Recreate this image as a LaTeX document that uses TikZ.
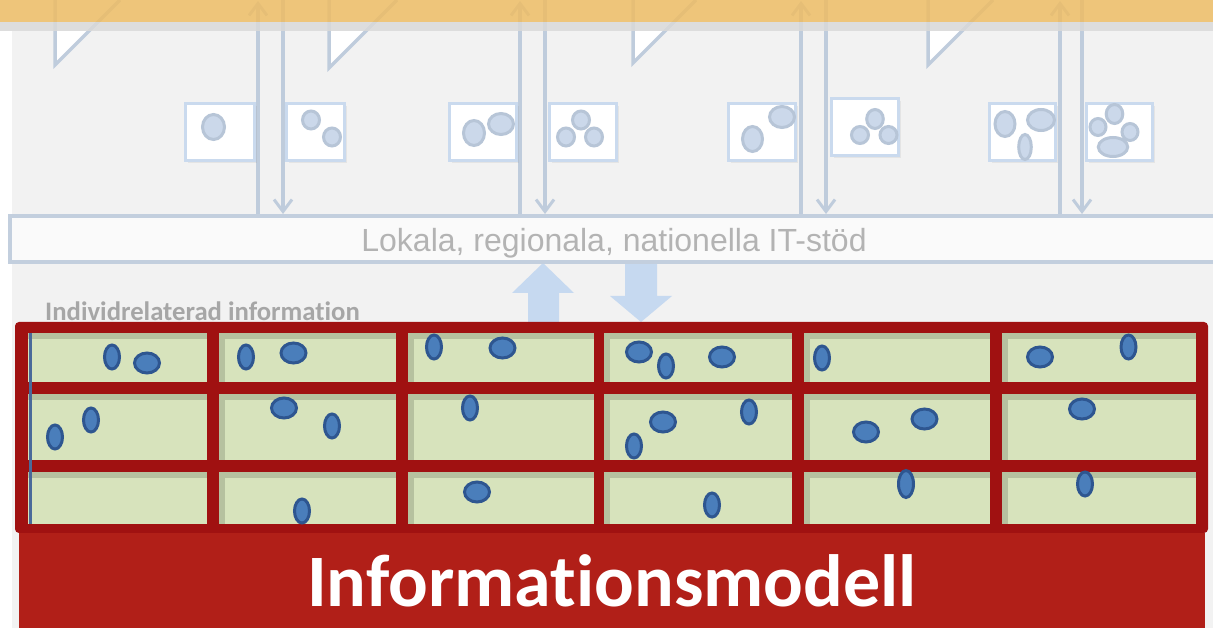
\documentclass[tikz,border=0pt]{standalone}
\usepackage{fontspec}
\setmainfont{Liberation Sans}
\newfontfamily\carlito[Ligatures=NoCommon]{Carlito}
\usetikzlibrary{arrows.meta,shadows}
\definecolor{panelc}{HTML}{F2F2F2}
\definecolor{linec}{HTML}{BFCCDC}
\definecolor{boxc}{HTML}{CADAEE}
\definecolor{ldotf}{HTML}{CBD8EA}
\definecolor{ldotr}{HTML}{B7C5D7}
\definecolor{itfill}{HTML}{FAFAFA}
\definecolor{itline}{HTML}{C3CFDE}
\definecolor{ittext}{HTML}{B3B3B3}
\definecolor{indtext}{HTML}{A6A6A6}
\definecolor{blockc}{HTML}{C6D9F0}
\definecolor{redframe}{HTML}{A01111}
\definecolor{cellg}{HTML}{D7E3BC}
\definecolor{datf}{HTML}{4A7EBB}
\definecolor{datr}{HTML}{2E5690}
\definecolor{redbox}{HTML}{B11F18}
\definecolor{orangeb}{HTML}{ECBD67}
\definecolor{bandg}{HTML}{D9D9D9}
\definecolor{blueline}{HTML}{4A6A9A}
\newcommand\tallE[3][12]{\draw[dat] (#2,#3) ellipse [x radius=7.5, y radius=#1];}
\newcommand\rndE[2]{\draw[dat] (#1,#2) ellipse [x radius=12.5, y radius=10];}
\newcommand\lDot[4]{\draw[ldat] (#1,#2) ellipse [x radius=#3, y radius=#4];}
\begin{document}
\begin{tikzpicture}[x=1pt,y=-1pt,
  conn/.style={draw=linec, line width=3.5pt},
  tipbarb/.style={-{Straight Barb[length=12pt,width=18pt,line width=3pt]}},
  tailline/.style={draw=linec, line width=3.5pt, line join=miter},
  dbox/.style={draw=boxc, line width=3pt, fill=white, inner sep=0pt,
     drop shadow={opacity=0.12, shadow xshift=2pt, shadow yshift=-3pt}},
  itbox/.style={draw=itline, line width=4pt, fill=itfill, inner sep=0pt,
     text=ittext, font=\fontsize{32}{36}\selectfont},
  dat/.style={draw=datr, fill=datf, line width=3pt},
  ldat/.style={draw=ldotr, fill=ldotf, line width=3pt},
  blockarrow/.style={fill=blockc},
  shade/.style={fill=black, opacity=0.15}]
\useasboundingbox (0,0) rectangle (1213,628);
\fill[white] (0,0) rectangle (1213,628);
\fill[panelc] (12,31) rectangle (1213,628);

% callout tails from the banner
\foreach \tx/\ty in {55/65,329/68,633/63,928/65}{
  \fill[white] (\tx,31) -- (\tx,\ty) -- ({\tx+\ty-31},31) -- cycle;
  \draw[tailline] (\tx,0) -- (\tx,\ty) -- ({\tx+\ty},0);
}

% block arrows
\fill[blockarrow] (543,263) -- (574,293) -- (559,293) -- (559,330) -- (528,330) -- (528,293) -- (512,293) -- cycle;
\fill[blockarrow] (625,262) -- (657,262) -- (657,296) -- (672,296) -- (641,322) -- (610,296) -- (625,296) -- cycle;

% IT box
\node[itbox, minimum width=1208pt, minimum height=46pt] (it) at (614,239) {};
\node[inner sep=0pt, anchor=base, text=ittext, font=\fontsize{32}{36}\selectfont] (ittxt) at (614,252) {Lokala, regionala, nationella IT-stöd};

% vertical connectors
\foreach \i/\ux/\dx in {1/258/283, 2/520/545, 3/801/826, 4/1060/1082}{
  \coordinate (ut\i) at (\ux,1);
  \coordinate (dt\i) at (\dx,0);
  \draw[conn, tipbarb] (it.north -| ut\i) -- (ut\i);
  \draw[conn, tipbarb] (dt\i) -- (it.north -| dt\i);
}

% small boxes
\node[dbox, minimum width=69pt, minimum height=57pt] (b1) at (220,132) {};
\node[dbox, minimum width=58pt, minimum height=57pt] (b2) at (315.5,132) {};
\node[dbox, minimum width=67pt, minimum height=57pt] (b3) at (483,132) {};
\node[dbox, minimum width=67pt, minimum height=57pt] (b4) at (583,132) {};
\node[dbox, minimum width=67pt, minimum height=57pt] (b5) at (762,132) {};
\node[dbox, minimum width=67pt, minimum height=57pt] (b6) at (865,127) {};
\node[dbox, minimum width=66pt, minimum height=57pt] (b7) at (1022.5,132) {};
\node[dbox, minimum width=66pt, minimum height=57pt] (b8) at (1119.5,132) {};
\lDot{213.5}{127}{11}{12.5}
\lDot{311}{120}{8.5}{9}
\lDot{332}{137}{8.5}{9}
\lDot{474}{133}{10.5}{12.5}
\lDot{501}{124}{12.5}{10.5}
\lDot{581}{120}{8.5}{9}
\lDot{566}{137}{8.5}{9}
\lDot{594}{137}{8.5}{9}
\lDot{752.5}{139}{10}{12.5}
\lDot{782}{117}{12.5}{10.5}
\lDot{875}{119}{8.3}{9.5}
\lDot{860}{135}{8.5}{8.5}
\lDot{888.5}{135}{8.5}{8.5}
\lDot{1005}{124}{10}{12.5}
\lDot{1041}{120}{13.5}{10.5}
\lDot{1025}{147}{6.3}{12.5}
\lDot{1114.5}{114}{8.3}{9.5}
\lDot{1098}{127}{8}{8.5}
\lDot{1130}{132}{8}{8.5}
\lDot{1113}{147}{14.7}{9.5}

% label
\node[anchor=base west, inner sep=0pt, text=indtext, font=\carlito\bfseries\fontsize{26.7}{30}\selectfont] (ind) at (45,321) {Individrelaterad information};

% red frame and cells
\fill[redframe, rounded corners=4pt] (15,322) rectangle (1208,533);
\foreach \xa/\xb/\c in {27.5/207/0, 219/396/1, 408/594/1, 604/791.5/1, 804/990/1, 1002/1196/1}{
  \foreach \ya/\yb in {333/382, 394/460, 472/524}{
    \fill[cellg] (\xa,\ya) rectangle (\xb,\yb);
    \fill[shade] (\xa,\ya) rectangle (\xb,{\ya+6});
    \ifnum\c=1 \fill[shade] (\xa,{\ya+6}) rectangle ({\xa+6},\yb); \fi
  }
}
\draw[blueline, line width=2.5pt] (30.5,333) -- (30.5,524);

% data ellipses
\tallE{112}{357} \rndE{147}{363}
\tallE{246}{357} \rndE{293.5}{353}
\tallE{434}{347} \rndE{502.5}{348}
\rndE{639}{352} \tallE{666}{366} \rndE{722}{357}
\tallE{822}{358}
\rndE{1040}{357} \tallE{1128.5}{347}
\tallE{55}{437} \tallE{91}{420}
\rndE{284}{408} \tallE{332}{426}
\tallE{470}{408}
\tallE{634}{446} \rndE{663}{422} \tallE{749}{412}
\rndE{866}{432} \rndE{924.5}{419}
\rndE{1082}{409}
\tallE{302}{511}
\rndE{477}{492}
\tallE{712}{505}
\tallE[13.5]{906}{484}
\tallE{1085}{484}

% bottom title box
\node[fill=redbox, minimum width=1186pt, minimum height=95pt, inner sep=0pt, text=white,
  font=\carlito\bfseries\fontsize{74}{80}\selectfont] (im) at (612,580.5) {Informationsmodell};

% banner on top
\fill[orangeb, opacity=0.87] (0,0) rectangle (1213,22);
\fill[bandg, opacity=0.87] (0,22) rectangle (1213,31);
\end{tikzpicture}
\end{document}
